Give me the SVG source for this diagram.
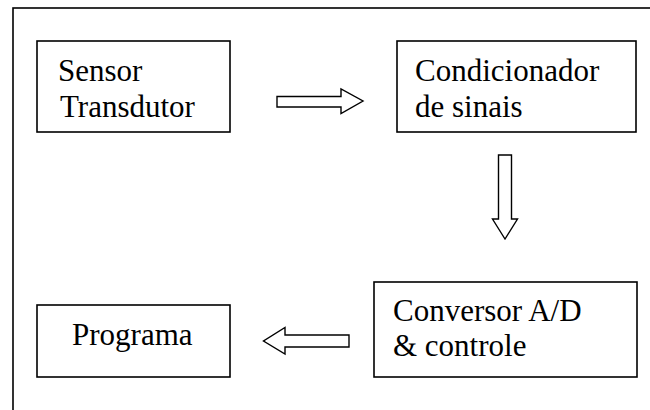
<svg xmlns="http://www.w3.org/2000/svg" width="650" height="410" viewBox="0 0 650 410">
  <style>
    .frame { fill: none; stroke: #000; stroke-width: 1.6; }
    .box { fill: #fff; stroke: #000; stroke-width: 1.6; }
    .arrow { fill: #fff; stroke: #000; stroke-width: 1.4; stroke-linejoin: miter; }
    .label { font-family: 'Liberation Serif', 'Times New Roman', serif; font-size: 31px; fill: #000; }
  </style>
  <rect width="650" height="410" fill="#fff"/>
  <!-- outer frame, open to the right and bottom -->
  <rect class="frame" x="13" y="8" width="660" height="420"/>

  <g id="sensor">
    <rect class="box" x="37" y="41" width="193" height="91"/>
    <text class="label" x="58" y="81">Sensor</text>
    <text class="label" x="60" y="117">Transdutor</text>
  </g>

  <g id="condicionador">
    <rect class="box" x="397" y="41" width="239" height="91"/>
    <text class="label" x="415" y="81">Condicionador</text>
    <text class="label" x="415" y="117">de sinais</text>
  </g>

  <g id="conversor">
    <rect class="box" x="374" y="282" width="263" height="95"/>
    <text class="label" x="393" y="321">Conversor A/D</text>
    <text class="label" x="393" y="356">&amp; controle</text>
  </g>

  <g id="programa">
    <rect class="box" x="37" y="305" width="193" height="72"/>
    <text class="label" x="72" y="345">Programa</text>
  </g>

  <g id="connectors">
    <!-- sensor to condicionador -->
    <polygon class="arrow" points="277,96.5 341,96.5 341,89 363,101 341,113.5 341,107 277,107"/>
    <!-- condicionador to conversor -->
    <polygon class="arrow" points="498.5,155 511.5,155 511.5,219 517.5,219 505,239 492.5,219 498.5,219"/>
    <!-- conversor to programa -->
    <polygon class="arrow" points="349,335 285,335 285,327.5 263.5,341 285,354 285,347 349,347"/>
  </g>
</svg>
